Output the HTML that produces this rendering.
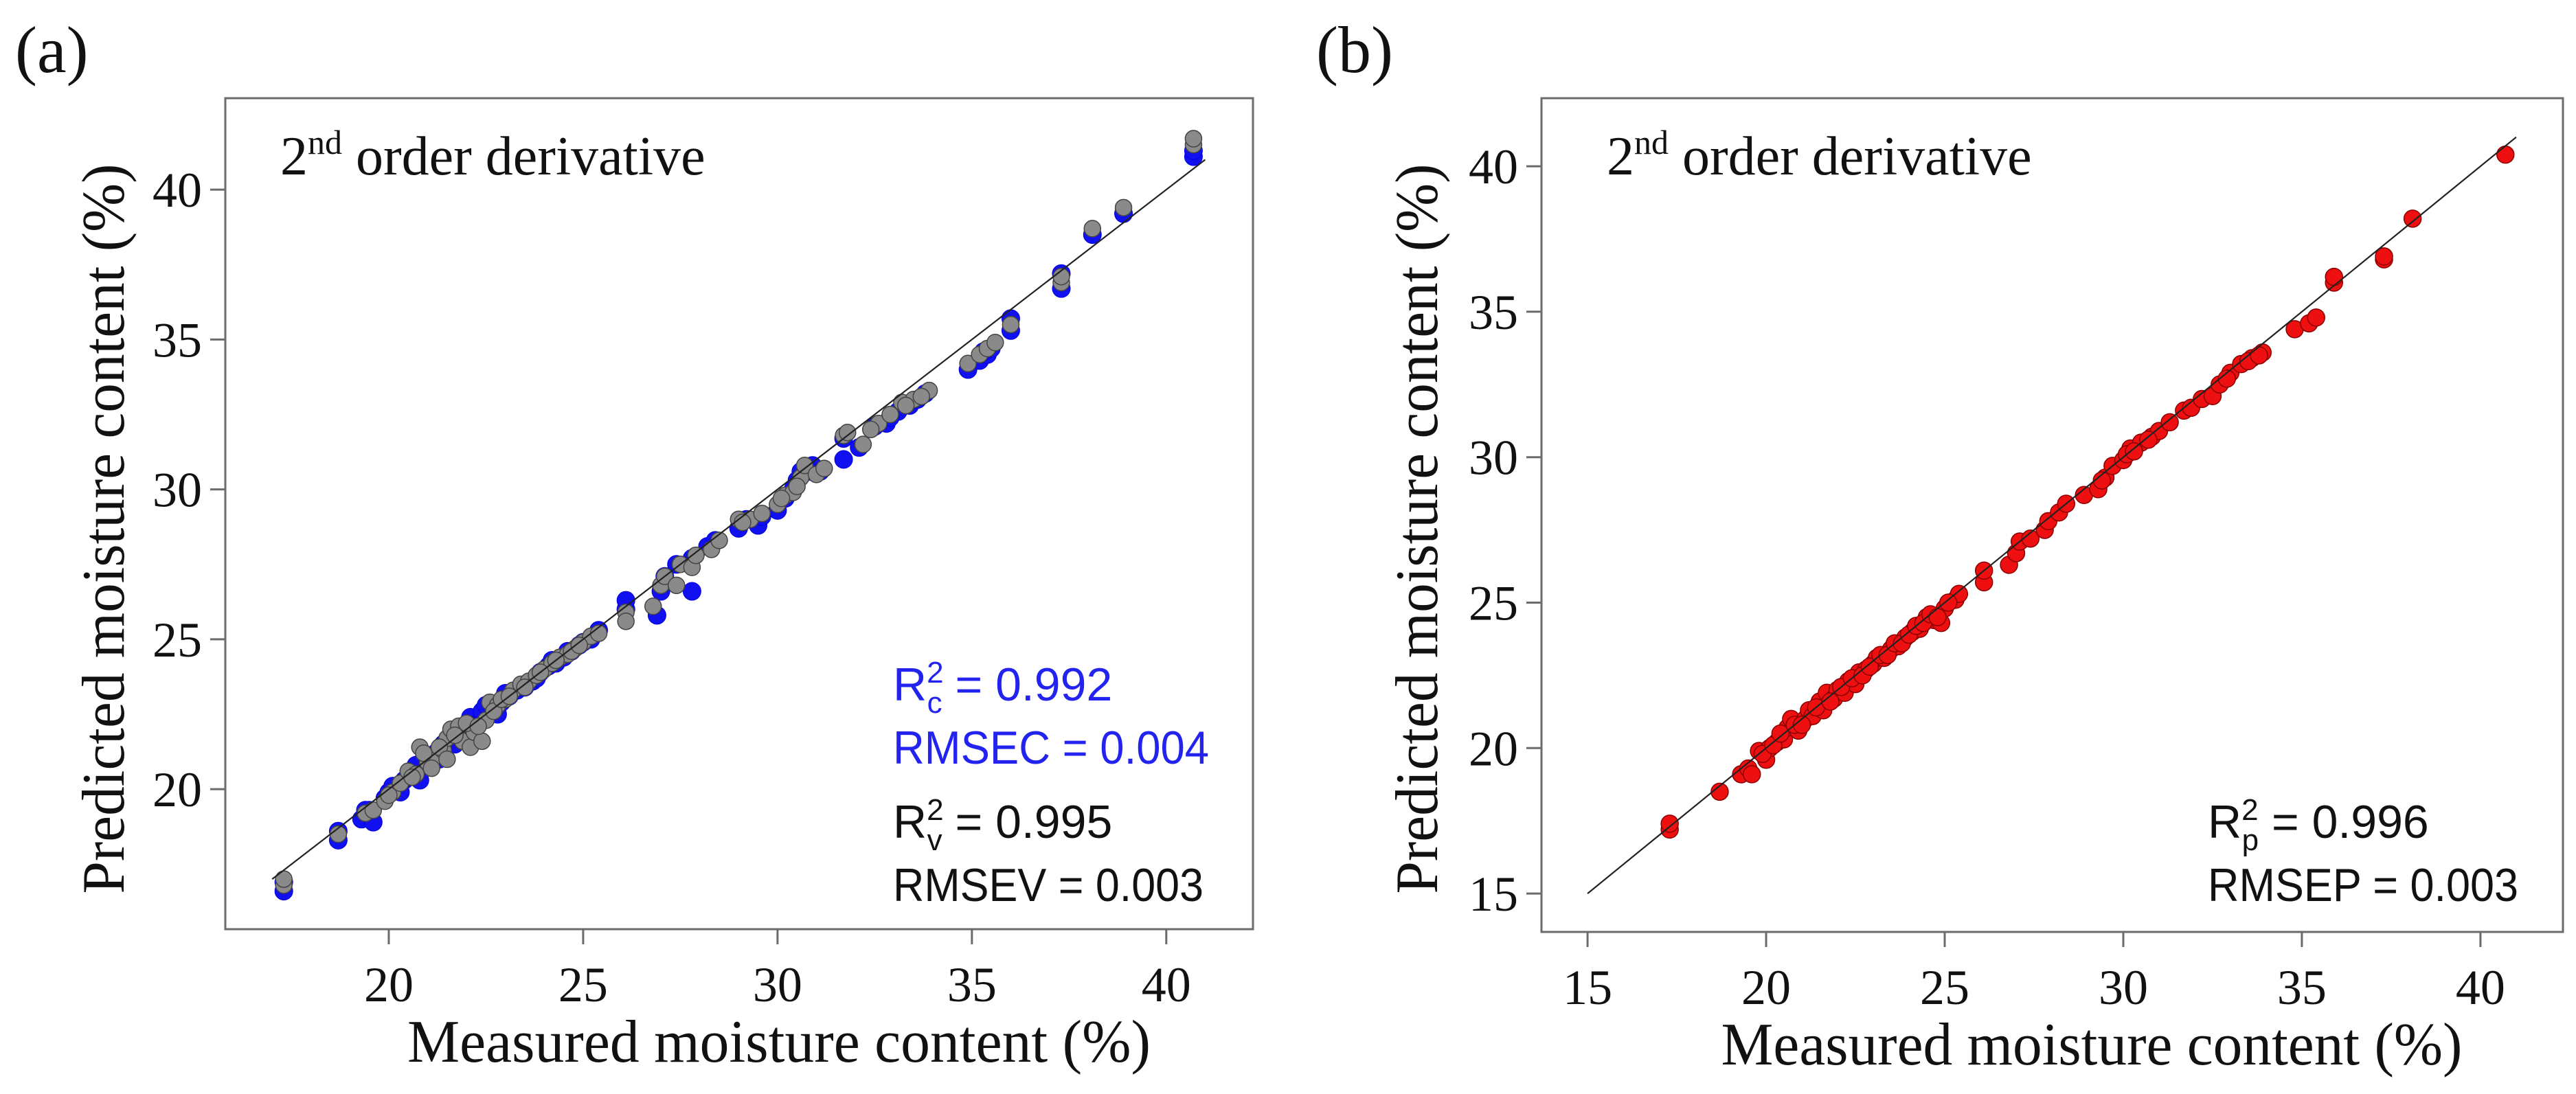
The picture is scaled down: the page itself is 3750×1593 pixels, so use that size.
<!DOCTYPE html>
<html><head><meta charset="utf-8"><style>
html,body{margin:0;padding:0;background:#fff;}
svg{display:block;}
</style></head><body>
<svg id="fig" width="3750" height="1593" viewBox="0 0 3750 1593" xmlns="http://www.w3.org/2000/svg">
<rect width="3750" height="1593" fill="#fff"/>
<g id="panelA"></g>
<g id="panelB"></g>
</svg>
<script>
const tickValuesA = [20, 25, 30, 35, 40];
const tickValuesB = [15, 20, 25, 30, 35, 40];
const calibrationPoints = [[17.3,16.6],[17.3,16.9],[18.7,18.3],[18.7,18.6],[19.3,19.0],[19.5,19.3],[19.6,18.9],[19.9,19.7],[20.0,19.9],[20.2,20.0],[20.4,20.3],[20.5,20.4],[20.6,20.6],[20.8,20.3],[20.9,21.0],[21.0,20.8],[21.2,21.2],[21.3,21.0],[21.4,21.5],[21.5,21.4],[21.6,21.7],[21.8,21.8],[22.0,22.0],[22.1,22.4],[22.3,22.2],[22.4,22.6],[22.6,22.5],[22.7,22.8],[22.9,22.9],[23.1,23.1],[23.3,23.3],[23.5,23.4],[23.7,23.6],[23.9,23.9],[24.1,24.1],[24.3,24.2],[24.5,24.4],[24.7,24.6],[24.9,24.8],[25.2,25.0],[25.4,25.3],[26.1,26.0],[26.1,26.3],[26.9,25.8],[27.0,26.6],[27.4,27.5],[27.8,26.6],[27.8,27.7],[28.2,28.1],[28.4,28.3],[29.0,28.7],[29.5,28.8],[29.6,29.1],[30.0,29.3],[30.2,29.7],[30.4,30.0],[30.6,30.6],[30.9,30.8],[31.1,30.6],[31.7,31.0],[31.7,31.7],[32.1,31.4],[32.5,32.1],[32.8,32.2],[33.1,32.6],[33.4,32.8],[33.8,33.2],[34.9,34.0],[35.2,34.3],[35.4,34.5],[35.5,34.7],[36.0,35.3],[36.0,35.7],[37.3,36.7],[37.3,37.2],[38.1,38.5],[38.9,39.2],[40.7,41.1],[40.7,41.3],[19.4,19.3],[20.1,20.1],[20.3,19.9],[20.7,20.8],[21.1,21.1],[21.4,21.1],[21.7,21.5],[22.2,22.1],[22.5,22.8],[22.8,22.5],[23.0,23.2],[23.4,23.4],[23.8,23.7],[24.2,24.3],[24.6,24.6],[25.0,24.9],[27.1,27.1],[29.2,29.0],[30.5,30.3],[30.8,30.6],[32.9,32.4],[33.6,33.0],[35.3,34.6]];
const validationPoints = [[17.3,16.8],[17.3,17.0],[18.7,18.5],[19.4,19.2],[19.6,19.3],[19.9,19.6],[20.1,19.9],[20.3,20.2],[20.5,20.6],[20.7,20.5],[20.8,21.4],[21.0,20.9],[21.2,21.1],[21.4,21.3],[21.5,21.7],[21.6,22.0],[21.8,22.1],[21.9,21.6],[22.1,21.4],[22.2,21.9],[22.4,21.6],[22.5,22.3],[22.6,22.9],[22.8,22.8],[23.0,23.0],[23.2,23.3],[23.4,23.5],[23.6,23.6],[23.8,23.8],[24.0,24.0],[24.2,24.2],[24.4,24.4],[24.6,24.5],[24.8,24.7],[25.0,24.9],[25.2,25.1],[25.4,25.2],[26.1,25.9],[26.1,25.6],[26.8,26.1],[27.0,26.8],[27.1,27.1],[27.4,26.8],[27.5,27.5],[27.8,27.4],[27.9,27.8],[28.3,28.0],[28.5,28.3],[29.0,29.0],[29.3,29.0],[29.6,29.2],[30.0,29.5],[30.2,29.8],[30.4,29.9],[30.6,30.4],[30.7,30.8],[31.0,30.5],[31.2,30.7],[31.7,31.8],[31.8,31.9],[32.2,31.5],[32.6,32.2],[32.9,32.5],[33.2,32.9],[33.5,33.0],[33.9,33.3],[34.9,34.2],[35.2,34.5],[35.4,34.7],[35.6,34.9],[36.0,35.5],[37.3,36.9],[37.3,37.1],[38.1,38.7],[38.9,39.4],[40.7,41.5],[40.7,41.7],[20.0,19.8],[20.6,20.4],[20.9,21.2],[21.1,20.7],[21.3,21.4],[21.5,21.0],[21.7,21.8],[22.0,22.2],[22.3,22.1],[22.7,22.6],[22.9,23.0],[23.1,23.1],[23.5,23.4],[23.9,23.9],[24.3,24.3],[24.7,24.6],[24.9,24.8],[29.1,28.9],[30.1,29.7],[30.5,30.1],[32.4,32.0],[33.3,32.8],[33.7,33.1]];
const predictionPoints = [[17.3,17.2],[17.3,17.4],[18.7,18.5],[19.3,19.1],[19.5,19.3],[19.6,19.1],[19.8,19.9],[20.0,19.6],[20.1,20.0],[20.3,20.2],[20.5,20.3],[20.6,20.7],[20.7,21.0],[20.9,20.6],[21.1,21.0],[21.2,21.3],[21.3,21.1],[21.5,21.6],[21.6,21.3],[21.7,21.9],[21.9,21.7],[22.0,22.0],[22.2,21.9],[22.3,22.3],[22.5,22.2],[22.6,22.6],[22.8,22.7],[23.0,22.9],[23.1,23.1],[23.3,23.1],[23.5,23.4],[23.7,23.5],[23.9,23.8],[24.1,24.0],[24.3,24.1],[24.5,24.5],[24.7,24.4],[24.9,24.3],[25.0,24.8],[25.3,25.1],[25.4,25.3],[26.1,25.7],[26.1,26.1],[26.8,26.3],[27.0,26.7],[27.1,27.1],[27.4,27.2],[27.8,27.5],[27.9,27.8],[28.2,28.1],[28.4,28.4],[28.9,28.7],[29.3,28.9],[29.5,29.3],[29.7,29.7],[30.0,29.9],[30.2,30.3],[30.5,30.5],[30.8,30.7],[31.0,30.9],[31.3,31.2],[31.7,31.6],[31.9,31.7],[32.2,32.0],[32.5,32.1],[32.7,32.5],[33.0,32.9],[33.3,33.2],[33.6,33.4],[33.9,33.6],[34.8,34.4],[35.2,34.6],[35.4,34.8],[35.9,36.0],[35.9,36.2],[37.3,36.8],[37.3,36.9],[38.1,38.2],[40.7,40.4],[19.9,19.8],[20.2,20.1],[20.4,20.5],[20.8,20.8],[21.0,20.8],[21.4,21.4],[21.8,21.6],[22.1,22.1],[22.4,22.4],[22.7,22.5],[22.9,22.8],[23.2,23.2],[23.4,23.2],[23.6,23.6],[23.8,23.6],[24.0,23.9],[24.2,24.2],[24.4,24.3],[24.6,24.6],[24.8,24.5],[25.1,25.0],[29.4,29.2],[30.1,30.1],[30.3,30.2],[30.7,30.6],[32.9,32.7],[33.5,33.3],[33.8,33.5]];
const fitLineA = [17, 41];
const fitLineB = [15, 41];

const NS = 'http://www.w3.org/2000/svg';
function mk(parent, tag, attrs, text){
  const e = document.createElementNS(NS, tag);
  for (const k in attrs) e.setAttribute(k, attrs[k]);
  if (text !== undefined) e.textContent = text;
  parent.appendChild(e);
  return e;
}
function lin(d0, d1, r0, r1){ return v => r0 + (v - d0) / (d1 - d0) * (r1 - r0); }

function buildPanel(g, cfg){
  const sx = lin(cfg.xd[0], cfg.xd[1], cfg.L, cfg.R);
  const sy = lin(cfg.yd[0], cfg.yd[1], cfg.B, cfg.T);
  const frame = mk(g, 'rect', {x:cfg.L, y:cfg.T, width:cfg.R-cfg.L, height:cfg.B-cfg.T, fill:'none', stroke:'#6b6b6b', 'stroke-width':3});
  
  
  cfg.ticks.forEach(v => {
    const x = sx(v);
    const t = mk(g, 'line', {x1:x, x2:x, y1:cfg.B, y2:cfg.B+22, stroke:'#6b6b6b', 'stroke-width':3});
    
    
    const l = mk(g, 'text', {x:x, y:cfg.B+105, 'text-anchor':'middle', 'font-family':'Liberation Serif, serif', 'font-size':72, fill:'#111'}, String(v));
    
    
  });
  cfg.ticks.forEach(v => {
    const y = sy(v);
    const t = mk(g, 'line', {x1:cfg.L-22, x2:cfg.L, y1:y, y2:y, stroke:'#6b6b6b', 'stroke-width':3});
    
    
    const l = mk(g, 'text', {x:cfg.L-34, y:y+25, 'text-anchor':'end', 'font-family':'Liberation Serif, serif', 'font-size':72, fill:'#111'}, String(v));
    
    
  });
  cfg.series.forEach(s => {
    s.pts.forEach(p => {
      const c = mk(g, 'circle', {cx:sx(p[0]), cy:sy(p[1]), r:s.r, fill:s.fill, stroke:s.stroke, 'stroke-width':s.sw});
      
      
    });
  });
  const fl = mk(g, 'line', {x1:sx(cfg.fit[0]), y1:sy(cfg.fit[0]), x2:sx(cfg.fit[1]), y2:sy(cfg.fit[1]), stroke:'#222', 'stroke-width':2.2});
  
  
  return {sx, sy};
}

const gA = document.getElementById('panelA');
buildPanel(gA, {L:328, R:1824, T:143, B:1353, xd:[15.795,42.23], yd:[15.33,43.05], ticks:tickValuesA, fit:fitLineA,
  series:[
    {pts:calibrationPoints, r:13, fill:'#1010f0', stroke:'#0000e0', sw:1, name:'calibration-point'},
    {pts:validationPoints, r:12, fill:'#8a8a8a', stroke:'#444', sw:1.5, name:'validation-point'}
  ]});
const gB = document.getElementById('panelB');
buildPanel(gB, {L:2244, R:3731, T:143, B:1357, xd:[13.71,42.31], yd:[13.68,42.34], ticks:tickValuesB, fit:fitLineB,
  series:[
    {pts:predictionPoints, r:12.5, fill:'#ee1010', stroke:'#8a0000', sw:1.5, name:'prediction-point'}
  ]});
</script>
<svg style="position:absolute;left:0;top:0" width="3750" height="1593" xmlns="http://www.w3.org/2000/svg">
<g font-family="Liberation Serif, serif" fill="#111">
<text x="22" y="105" font-size="96">(a)</text>
<text x="1916" y="105" font-size="96">(b)</text>
<text x="408" y="254" font-size="80">2<tspan font-size="50" dy="-30">nd</tspan><tspan dy="30"> order derivative</tspan></text>
<text x="2339" y="254" font-size="80">2<tspan font-size="50" dy="-30">nd</tspan><tspan dy="30"> order derivative</tspan></text>
<text x="1134" y="1546" font-size="88" text-anchor="middle" textLength="1082" lengthAdjust="spacingAndGlyphs">Measured moisture content (%)</text>
<text x="3045" y="1550" font-size="88" text-anchor="middle" textLength="1079" lengthAdjust="spacingAndGlyphs">Measured moisture content (%)</text>
<text transform="translate(180,770) rotate(-90)" font-size="88" text-anchor="middle" textLength="1063" lengthAdjust="spacingAndGlyphs">Predicted moisture content (%)</text>
<text transform="translate(2092,770) rotate(-90)" font-size="88" text-anchor="middle" textLength="1063" lengthAdjust="spacingAndGlyphs">Predicted moisture content (%)</text>
</g>
<g font-family="Liberation Sans, sans-serif" font-size="68">
<text x="1300" y="1020" fill="#2323f0">R<tspan font-size="44" dy="-26">2</tspan><tspan font-size="44" dx="-24" dy="44">c</tspan><tspan dy="-18"> = 0.992</tspan></text>
<text x="1300" y="1112" fill="#2323f0" textLength="460" lengthAdjust="spacingAndGlyphs">RMSEC = 0.004</text>
<text x="1300" y="1220" fill="#111">R<tspan font-size="44" dy="-26">2</tspan><tspan font-size="44" dx="-24" dy="44">v</tspan><tspan dy="-18"> = 0.995</tspan></text>
<text x="1300" y="1312" fill="#111" textLength="452" lengthAdjust="spacingAndGlyphs">RMSEV = 0.003</text>
<text x="3214" y="1220" fill="#111">R<tspan font-size="44" dy="-26">2</tspan><tspan font-size="44" dx="-24" dy="44">p</tspan><tspan dy="-18"> = 0.996</tspan></text>
<text x="3214" y="1312" fill="#111" textLength="452" lengthAdjust="spacingAndGlyphs">RMSEP = 0.003</text>
</g>
</svg>
</body></html>
